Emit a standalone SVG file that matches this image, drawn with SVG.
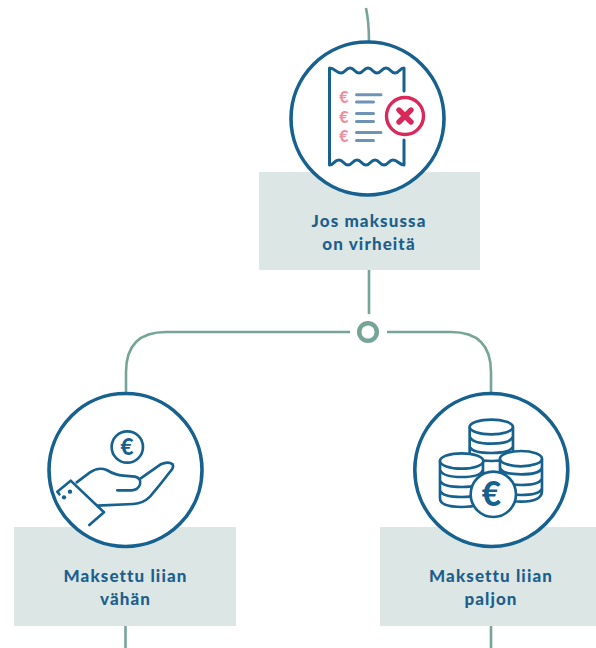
<svg xmlns="http://www.w3.org/2000/svg" width="596" height="648" viewBox="0 0 596 648">
<style>
.box{fill:#dce7e5}
.ring{fill:#fff;stroke:#17618f;stroke-width:3.600}
.conn{fill:none;stroke:#76a598;stroke-width:2.600}
.lbl{font-family:Lato,"Liberation Sans",sans-serif;font-weight:900;font-size:17px;letter-spacing:1.100px;fill:#1d5f8c;text-anchor:middle}
.ic{fill:none;stroke:#17618f;stroke-linecap:round;stroke-linejoin:round}
.z{stroke-width:8}
.zf{fill:#fff;stroke:#17618f;stroke-width:8;stroke-linejoin:round;stroke-linecap:round}
.zl{fill:none;stroke:#17618f;stroke-width:8;stroke-linecap:round}
.bar{stroke:#6f93b5;stroke-width:3;stroke-linecap:round;fill:none}
.eur{font-family:Lato,"Liberation Sans",sans-serif;font-weight:900;text-anchor:middle}
</style>
<rect width="596" height="648" fill="#fff"/>
<g id="connectors">
<path class="conn" d="M366 8Q369 22 369 42"/>
<path class="conn" d="M369 270V314"/>
<path class="conn" d="M350 332H166Q126 332 126 372V392"/>
<path class="conn" d="M387 332H451Q491 332 491 372V392"/>
<path class="conn" d="M125.500 626V648"/>
<path class="conn" d="M491 626V648"/>
<circle cx="368" cy="332" r="8.800" fill="#fff" stroke="#76a598" stroke-width="4.500"/>
</g>
<g id="node-virheita">
<rect class="box" x="259" y="172" width="221" height="98"/>
<circle class="ring" cx="367.500" cy="118.500" r="76.500"/>
<path class="ic" stroke-width="3" d="M404 91V68C399.500 68 399.500 73 395 73C390.500 73 390.500 68 386 68C381.500 68 381.500 73 377 73C372.500 73 372.500 68 368 68C363.500 68 363.500 73 359 73C354.500 73 354.500 68 350 68C345.500 68 345.500 73 341 73C336 73 335 68 329.500 68V165C334 165 334 160 339 160C343.500 160 343.500 165 348 165C352.500 165 352.500 160 357 160C361.500 160 361.500 165 366 165C370.500 165 370.500 160 375 160C379.500 160 379.500 165 384 165C388.500 165 388.500 160 393 160C398 160 399 165 404 165V140"/>
<path class="bar" d="M356.500 94.700H381M356.500 102H373.500M356.500 113.500H373.500M356.500 121.500H373.500M356.500 132.500H381M356.500 140.500H373.500"/>
<g class="eur" fill="#ee8fa0" font-size="16">
<text x="344" y="103">€</text><text x="344" y="122.500">€</text><text x="344" y="142">€</text>
</g>
<circle cx="405" cy="116" r="18.500" fill="#fff" stroke="#d9285a" stroke-width="3.400"/>
<path d="M399 110L411 122M411 110L399 122" stroke="#d9285a" stroke-width="5.400" stroke-linecap="round"/>
<text class="lbl" x="369" y="227">Jos maksussa</text>
<text class="lbl" x="369" y="249.500">on virheitä</text>
</g>
<g id="node-vahan">
<rect class="box" x="14" y="527" width="222" height="99"/>
<circle class="ring" cx="125.500" cy="470" r="76.500"/>
<g transform="translate(40 385) scale(.3333)">
<circle class="ic z" cx="262" cy="186" r="47"/>
<text class="eur" x="261" y="211" font-size="68" fill="#17618f">€</text>
<path class="ic z" d="M110 292L150 262Q175 245 200 255Q225 270 250 272L285 275Q305 280 300 298Q295 314 275 316H232"/>
<path class="ic z" d="M302 280L362 238Q385 228 398 238Q402 248 392 258Q360 300 330 335Q310 355 280 357L172 362"/>
<path class="ic z" d="M58 328L52 320L92 287L192 382L148 420"/>
<circle cx="72" cy="337" r="6.500" fill="#17618f"/><circle cx="90" cy="320" r="6.500" fill="#17618f"/>
</g>
<text class="lbl" x="125.500" y="582">Maksettu liian</text>
<text class="lbl" x="125.500" y="604.500">vähän</text>
</g>
<g id="node-paljon">
<rect class="box" x="380" y="527" width="216" height="99"/>
<circle class="ring" cx="491.300" cy="470" r="76.500"/>
<g transform="translate(405 385) scale(.3333)">
<path class="zf" d="M194 128V205Q194 228 260 228T324 205V128"/>
<ellipse class="zf" cx="259" cy="126" rx="65" ry="22"/>
<path class="zl" d="M196 158Q205 176 259 176T322 158M196 188Q205 204 259 204T322 188"/>
<path class="zf" d="M285 222V318Q285 350 348 350T411 318V222"/>
<ellipse class="zf" cx="348" cy="221" rx="63" ry="23"/>
<path class="zl" d="M287 252Q296 268 348 268T409 252M287 284Q296 300 348 300T409 284M287 314Q296 330 348 330T409 314"/>
<path class="zf" d="M105 228V340Q105 366 170 366T234 340V228"/>
<ellipse class="zf" cx="170" cy="228" rx="65" ry="23"/>
<path class="zl" d="M107 258Q116 276 170 276T232 258M107 290Q116 306 170 306T232 290M107 320Q116 336 170 336T232 320"/>
<circle class="zf" cx="265" cy="328" r="68"/>
<text class="eur" x="259" y="364" font-size="100" fill="#17618f">€</text>
</g>
<text class="lbl" x="491" y="582">Maksettu liian</text>
<text class="lbl" x="491" y="604.500">paljon</text>
</g>
</svg>
